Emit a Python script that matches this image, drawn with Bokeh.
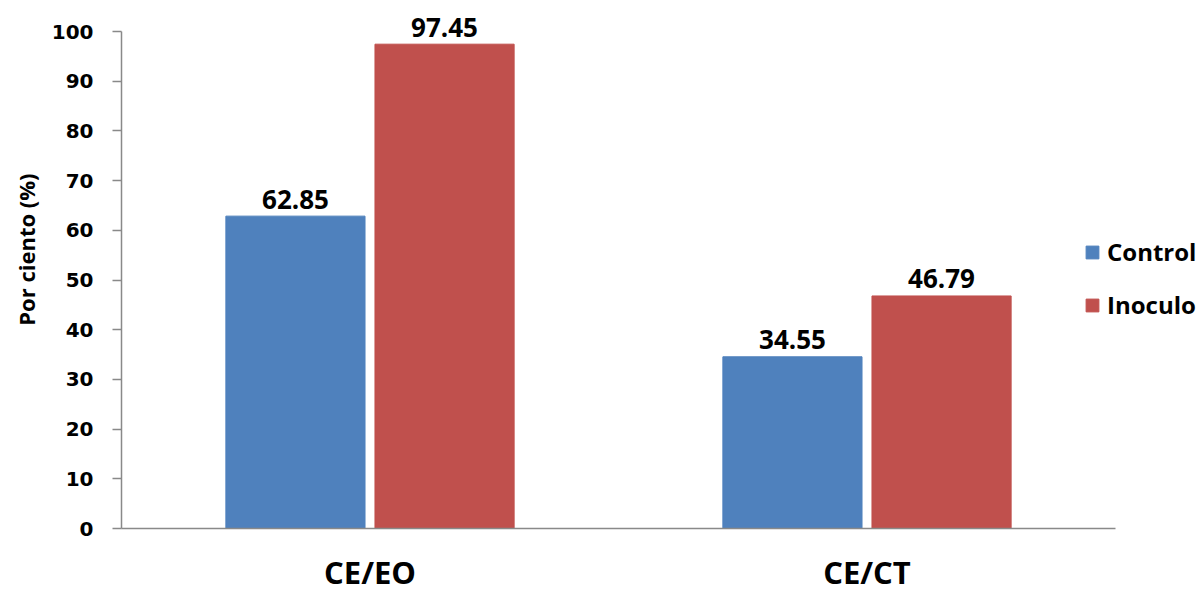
from bokeh.plotting import figure
from bokeh.models import ColumnDataSource, Range1d, Legend, LegendItem, FixedTicker, Title
from bokeh.core.properties import value
from bokeh.embed import file_html
from bokeh.resources import INLINE

categories = ["CE/EO", "CE/CT"]
control = [62.85, 34.55]
inoculo = [97.45, 46.79]
series_names = ["Control", "Inoculo"]
y_ticks = [0, 10, 20, 30, 40, 50, 60, 70, 80, 90, 100]

blue = "#4F81BD"
red = "#C0504D"

cat_pos = [i + 0.5 for i in range(len(categories))]
off = 0.15
bar_w = 0.28

src = ColumnDataSource(data=dict(
    xc=[c - off for c in cat_pos],
    xi=[c + off for c in cat_pos],
    control=control,
    inoculo=inoculo,
    control_lbl=[f"{v:.2f}" for v in control],
    inoculo_lbl=[f"{v:.2f}" for v in inoculo],
))

n = len(categories)
p = figure(
    x_range=Range1d(0, n * 1081 / 994),
    y_range=Range1d(0, 100 * 528 / 497),
    frame_width=1081, frame_height=528,
    min_border_left=121, min_border_right=0, min_border_top=0, min_border_bottom=64,
    output_backend="svg", toolbar_location=None,
    background_fill_color="white", border_fill_color="white",
)
p.outline_line_color = None
p.xgrid.grid_line_color = None
p.ygrid.grid_line_color = None

r1 = p.vbar(x="xc", top="control", width=bar_w, source=src,
            fill_color=blue, line_color=blue, line_width=1)
r2 = p.vbar(x="xi", top="inoculo", width=bar_w, source=src,
            fill_color=red, line_color=red, line_width=1)

lab_font = value("Open Sans")
p.text(x="xc", y="control", text="control_lbl", source=src,
       text_align="center", text_baseline="alphabetic", y_offset=-17,
       text_font=lab_font, text_font_style="bold", text_font_size="26px", text_color="black")
p.text(x="xi", y="inoculo", text="inoculo_lbl", source=src,
       text_align="center", text_baseline="alphabetic", y_offset=-17,
       text_font=lab_font, text_font_style="bold", text_font_size="26px", text_color="black")

axis_color = "#898989"
# y axis
p.yaxis.ticker = FixedTicker(ticks=y_ticks)
p.yaxis.bounds = (y_ticks[0], y_ticks[-1])
p.yaxis.axis_line_color = axis_color
p.yaxis.axis_line_width = 1.5
p.yaxis.major_tick_line_color = axis_color
p.yaxis.major_tick_line_width = 1.5
p.yaxis.major_tick_out = 9
p.yaxis.major_tick_in = 0
p.yaxis.minor_tick_line_color = None
p.yaxis.major_label_text_font = "DejaVu Sans"
p.yaxis.major_label_text_font_style = "bold"
p.yaxis.major_label_text_font_size = "20px"
p.yaxis.major_label_text_color = "black"
p.yaxis.major_label_standoff = 19

ylab = Title(text="Por ciento (%)", align="right", offset=173,
             text_font="Open Sans", text_font_style="bold", text_font_size="22px",
             text_color="black", standoff=15)
p.add_layout(ylab, "left")

# x axis
p.xaxis.ticker = FixedTicker(ticks=cat_pos)
p.xaxis.major_label_overrides = {c: name for c, name in zip(cat_pos, categories)}
p.xaxis.bounds = (0, n)
p.xaxis.axis_line_color = axis_color
p.xaxis.axis_line_width = 1.5
p.xaxis.major_tick_line_color = None
p.xaxis.major_tick_out = 0
p.xaxis.major_tick_in = 0
p.xaxis.minor_tick_line_color = None
p.xaxis.major_label_text_font = "Open Sans"
p.xaxis.major_label_text_font_style = "bold"
p.xaxis.major_label_text_font_size = "31px"
p.xaxis.major_label_text_color = "black"
p.xaxis.major_label_standoff = 22

legend = Legend(
    items=[LegendItem(label=series_names[0], renderers=[r1]),
           LegendItem(label=series_names[1], renderers=[r2])],
    location=(963, 207),
    orientation="vertical",
    padding=0, margin=0, spacing=20,
    glyph_width=16, glyph_height=16, label_height=30,
    label_standoff=7,
    label_text_font="Open Sans", label_text_font_style="bold", label_text_font_size="24px",
    label_text_color="black",
    background_fill_alpha=0, border_line_color=None,
)
p.add_layout(legend)

open("out.html", "w").write(file_html(p, INLINE))
